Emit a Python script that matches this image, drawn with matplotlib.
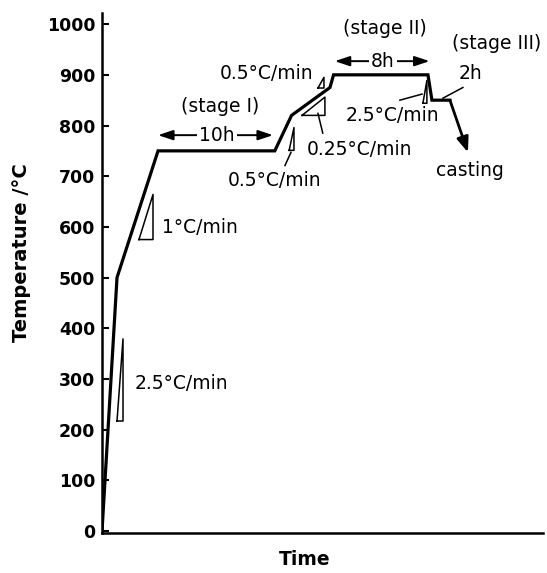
import matplotlib
matplotlib.use("Agg")
import matplotlib.pyplot as plt

plt.rcParams['font.family'] = ['DejaVu Sans']

# heat treatment schedule (time in arbitrary hours, not to scale)
time = [0, 1.25, 4.67, 14.4, 15.8, 19.0, 19.3, 27.17, 27.5, 29.0]
temp = [0, 500, 750, 750, 820, 875, 900, 900, 850, 850]
cast_end = (30.5, 747)

yticks = [0, 100, 200, 300, 400, 500, 600, 700, 800, 900, 1000]

# slope indicator triangles
tri_25 = ([1.25, 1.75, 1.75, 1.25], [217, 217, 379, 217])
tri_1 = ([3.08, 4.25, 4.25, 3.08], [575, 575, 664, 575])
tri_05a = ([15.6, 16.0, 16.0, 15.6], [751, 751, 796, 751])
tri_025 = ([16.67, 18.58, 18.58, 16.67], [820, 856, 820, 820])
tri_05b = ([18.0, 18.5, 18.5, 18.0], [874, 874, 895, 874])
tri_25b = ([26.75, 27.08, 27.08, 26.75], [844, 844, 889, 844])

fig = plt.figure(figsize=(5.47, 5.73), dpi=100)
ax = fig.add_axes([0.1865, 0.0698, 0.806, 0.9075])

ax.plot(time, temp, color='black', lw=2.3, solid_joinstyle='miter')
ax.annotate('', xy=cast_end, xytext=(time[-1], temp[-1]),
            arrowprops=dict(arrowstyle='-|>,head_length=0.9,head_width=0.35',
                            color='black', lw=2.0, shrinkA=0, shrinkB=0))

for tx, ty in [tri_25, tri_1, tri_05a, tri_025, tri_05b, tri_25b]:
    ax.plot(tx, ty, color='black', lw=1.1)

# leader lines
ax.plot([15.75, 15.25], [747, 721], color='black', lw=1.1)
ax.plot([18.0, 18.4], [824, 785], color='black', lw=1.1)
ax.plot([24.83, 26.67], [850, 862], color='black', lw=1.1)
ax.plot([30.08, 28.42], [875, 854], color='black', lw=1.1)

fs = 13.5

# duration arrows
for x0, x1, y, lab, xc in [(4.67, 14.25, 781, '10h', 9.6), (19.4, 27.3, 927, '8h', 23.4)]:
    ax.annotate('', xy=(x0, y), xytext=(x1, y),
                arrowprops=dict(arrowstyle='<|-|>,head_length=0.9,head_width=0.3',
                                color='black', lw=1.4, shrinkA=0, shrinkB=0))
    ax.text(xc, y, lab, ha='center', va='center', fontsize=fs,
            bbox=dict(facecolor='white', edgecolor='none', pad=1.5))

ax.text(2.75, 290, '2.5°C/min', ha='left', va='center', fontsize=fs)
ax.text(5.0, 599, '1°C/min', ha='left', va='center', fontsize=fs)
ax.text(9.83, 838, '(stage I)', ha='center', va='center', fontsize=fs)
ax.text(14.4, 692, '0.5°C/min', ha='center', va='center', fontsize=fs)
ax.text(17.1, 753, '0.25°C/min', ha='left', va='center', fontsize=fs)
ax.text(17.6, 903, '0.5°C/min', ha='right', va='center', fontsize=fs)
ax.text(23.6, 992, '(stage II)', ha='center', va='center', fontsize=fs)
ax.text(24.2, 820, '2.5°C/min', ha='center', va='center', fontsize=fs)
ax.text(30.75, 903, '2h', ha='center', va='center', fontsize=fs)
ax.text(32.9, 962, '(stage III)', ha='center', va='center', fontsize=fs, clip_on=False)
ax.text(30.67, 711, 'casting', ha='center', va='center', fontsize=fs)

ax.set_xlim(0, 36.75)
ax.set_ylim(-4, 1022)
ax.set_yticks(yticks)
ax.set_xticks([])
ax.tick_params(axis='y', direction='in', length=5, width=1.5, pad=5, labelsize=12.5)
for lbl in ax.get_yticklabels():
    lbl.set_fontweight('bold')

for s in ['top', 'right']:
    ax.spines[s].set_visible(False)
for s in ['left', 'bottom']:
    ax.spines[s].set_linewidth(1.8)

fig.text(0.0402, 0.5585, 'Temperature /°C', rotation=90, ha='center', va='center',
         fontsize=14, fontweight='bold')
fig.text(0.5576, 0.0227, 'Time', ha='center', va='center', fontsize=13.5, fontweight='bold')

fig.savefig('out.png', dpi=100)
